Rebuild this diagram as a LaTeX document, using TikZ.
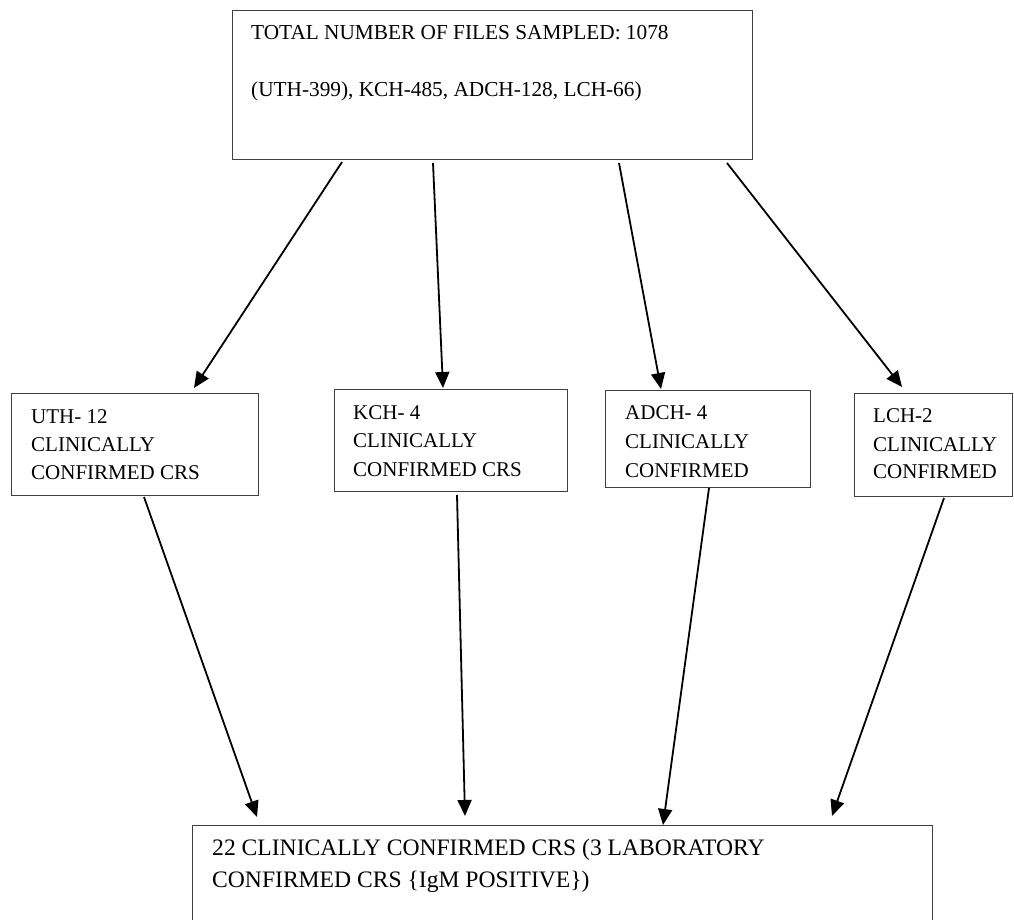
\documentclass[tikz,border=0pt]{standalone}
\usepackage{fontspec}
\setmainfont{Liberation Serif}
\usetikzlibrary{calc,arrows.meta}
\begin{document}
\begin{tikzpicture}[x=1pt,y=-1pt,
  boxnode/.style={draw=black!75,line width=1pt,inner sep=0pt,outer sep=0pt,anchor=north west},
  txt/.style={inner sep=0pt,anchor=base west,font=\fontsize{21}{25}\selectfont},
  toptxt/.style={inner sep=0pt,anchor=base west,font=\fontsize{21.3}{25}\selectfont},
  bottxt/.style={inner sep=0pt,anchor=base west,font=\fontsize{23.6}{28}\selectfont},
  arr/.style={-{Triangle[length=16pt,width=14pt]},line width=1.8pt,black}]
\clip (0,0) rectangle (1014,920);
\fill[white] (0,0) rectangle (1014,920);
% boxes
\node[boxnode,minimum width=520pt,minimum height=149pt] (top) at (232,11) {};
\node[boxnode,minimum width=247pt,minimum height=102pt] (uth) at (11,393) {};
\node[boxnode,minimum width=233pt,minimum height=102pt] (kch) at (334,389) {};
\node[boxnode,minimum width=205pt,minimum height=97pt] (adch) at (605,390) {};
\node[boxnode,minimum width=158.5pt,minimum height=103pt] (lch) at (854,393) {};
\node[boxnode,minimum width=740pt,minimum height=130pt] (bot) at (192,825) {};
% texts
\node[toptxt] (t1) at (251,40) {TOTAL NUMBER OF FILES SAMPLED: 1078};
\node[toptxt] (t2) at (251,97) {(UTH-399), KCH-485, ADCH-128, LCH-66)};
\node[txt] (u1) at (31,423) {UTH- 12};
\node[txt] (u2) at (31,451) {CLINICALLY};
\node[txt] (u3) at (31,479) {CONFIRMED CRS};
\node[txt] (k1) at (353,419) {KCH- 4};
\node[txt] (k2) at (353,447) {CLINICALLY};
\node[txt] (k3) at (353,476) {CONFIRMED CRS};
\node[txt] (a1) at (625,419) {ADCH- 4};
\node[txt] (a2) at (625,448) {CLINICALLY};
\node[txt] (a3) at (625,477) {CONFIRMED};
\node[txt] (l1) at (873,422) {LCH-2};
\node[txt] (l2) at (873,451) {CLINICALLY};
\node[txt] (l3) at (873,478) {CONFIRMED};
\node[bottxt] (b1) at (212,855) {22 CLINICALLY CONFIRMED CRS (3 LABORATORY};
\node[bottxt] (b2) at (212,887) {CONFIRMED CRS \{IgM POSITIVE\})};
% arrows top -> middle
\draw[arr] ($(top.south west)+(110,2)$) -- ($(uth.north west)+(183,-5)$);
\draw[arr] ($(top.south west)+(201,3)$) -- ($(kch.north west)+(109,-1)$);
\draw[arr] ($(top.south west)+(387,3)$) -- ($(adch.north west)+(56,-1)$);
\draw[arr] ($(top.south west)+(495,3)$) -- ($(lch.north west)+(48,-6)$);
% arrows middle -> bottom
\draw[arr] ($(uth.south west)+(133,2)$) -- ($(bot.north west)+(65,-8)$);
\draw[arr] ($(kch.south west)+(123,4)$) -- ($(bot.north west)+(273,-9)$);
\draw[arr] ($(adch.south west)+(104,1)$) -- ($(bot.north west)+(471,0)$);
\draw[arr] ($(lch.south west)+(90,2)$) -- ($(bot.north west)+(640,-9)$);
\end{tikzpicture}
\end{document}
